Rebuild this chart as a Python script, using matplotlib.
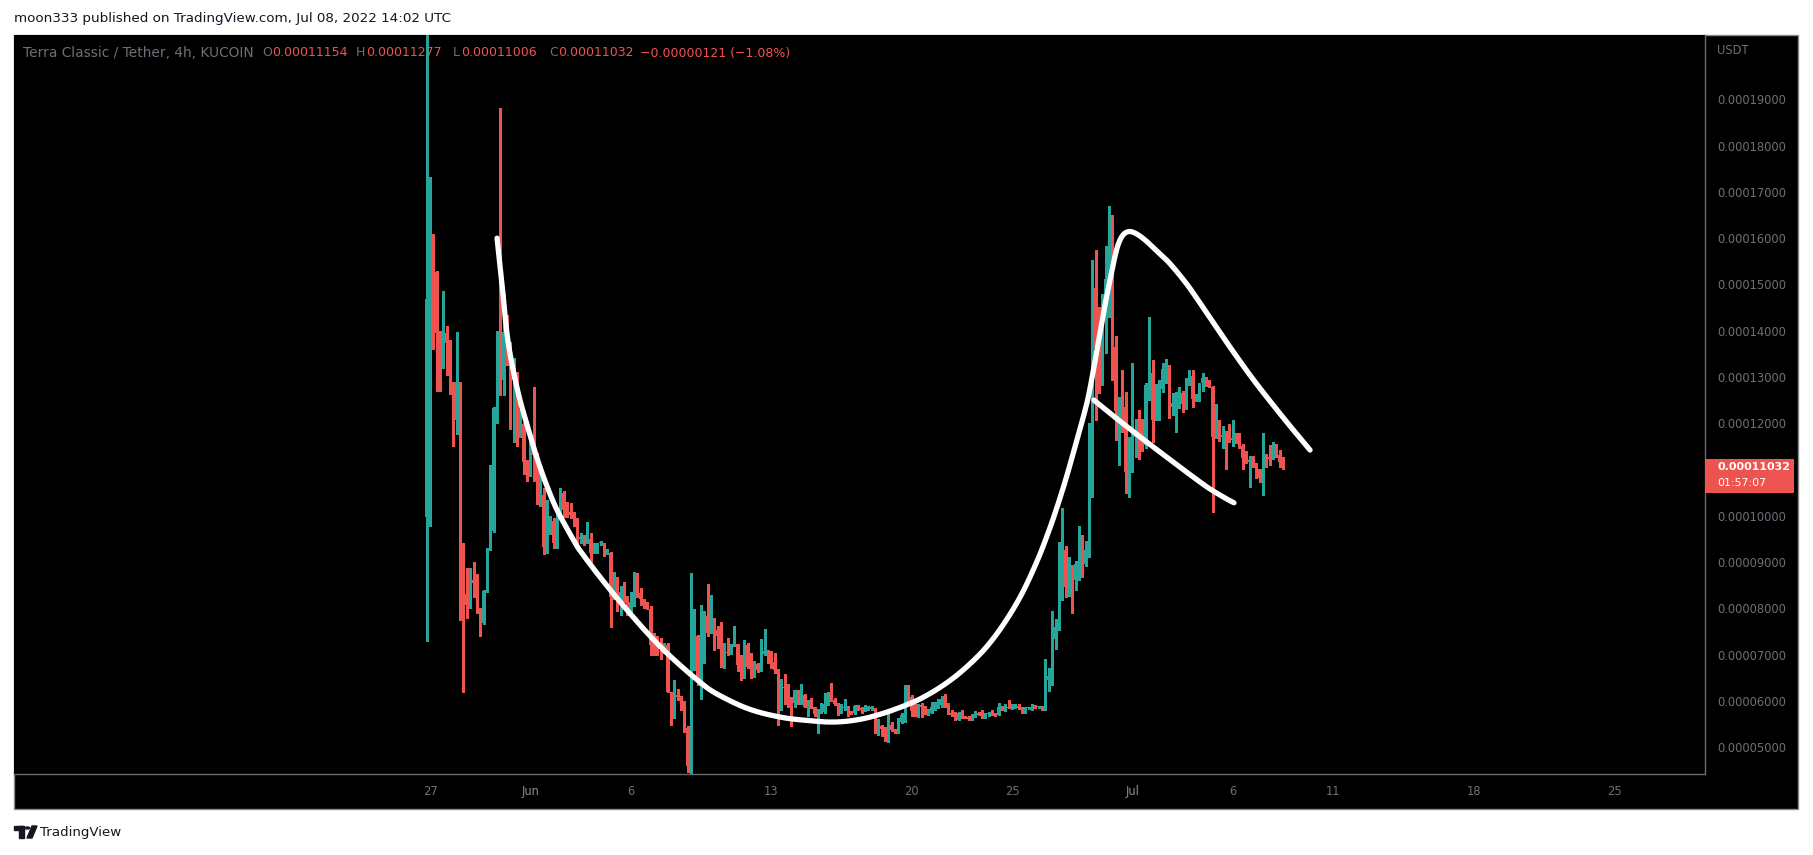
import numpy as np
import pandas as pd
import matplotlib
matplotlib.use("Agg")
import matplotlib.pyplot as plt
from matplotlib.patches import Rectangle, Circle, Polygon
from matplotlib.ticker import FixedLocator, FuncFormatter

W, H = 1813, 855

# 4h candles, prices in units of 1e-5 USDT
first_candle = "2022-05-26 20:00"
first_open = 9.98
closes = [
    14.68, 16.08, 15.27, 13.96, 13.30, 13.96, 13.74, 12.90, 12.07, 12.90,
    9.08, 8.30, 8.07, 8.60, 8.55, 7.99, 7.68, 8.37, 9.27, 9.68,
    12.33, 13.96, 12.94, 13.98, 13.71, 12.94, 13.00, 11.87, 11.98, 11.16,
    10.95, 11.41, 11.31, 10.39, 10.44, 9.32, 9.78, 9.88, 9.42, 10.10,
    10.50, 10.13, 10.07, 10.02, 9.87, 9.49, 9.55, 9.44, 9.50, 9.20,
    9.26, 9.40, 9.40, 9.19, 9.19, 8.25, 8.48, 8.19, 8.36, 8.27,
    7.91, 8.14, 8.65, 8.34, 8.19, 8.11, 7.99, 7.21, 7.18, 7.08,
    7.06, 7.20, 6.20, 5.64, 6.13, 6.09, 5.93, 5.41, 4.60, 7.20,
    7.40, 6.46, 7.42, 7.83, 7.46, 7.66, 7.53, 7.40, 6.99, 7.06,
    7.03, 7.20, 7.23, 6.77, 6.65, 7.20, 6.74, 6.65, 6.79, 6.67,
    7.01, 7.07, 6.88, 6.84, 6.67, 5.84, 6.30, 6.27, 5.98, 5.96,
    6.23, 5.96, 6.12, 5.87, 6.01, 5.87, 5.71, 5.74, 5.75, 5.93,
    6.16, 6.02, 5.94, 5.79, 5.85, 5.87, 5.76, 5.74, 5.89, 5.84,
    5.79, 5.82, 5.83, 5.84, 5.44, 5.45, 5.40, 5.21, 5.48, 5.37,
    5.35, 5.55, 5.69, 6.30, 6.09, 5.77, 5.69, 5.91, 5.87, 5.73,
    5.73, 5.86, 5.88, 5.91, 6.03, 5.87, 5.74, 5.69, 5.58, 5.73,
    5.66, 5.64, 5.60, 5.69, 5.73, 5.70, 5.64, 5.71, 5.74, 5.72,
    5.70, 5.86, 5.80, 5.87, 5.85, 5.87, 5.89, 5.84, 5.77, 5.84,
    5.85, 5.91, 5.86, 5.88, 5.82, 6.45, 6.54, 7.33, 7.60, 9.12,
    9.26, 8.47, 8.92, 8.60, 8.95, 9.01, 8.96, 9.26, 10.81, 14.93,
    13.62, 13.10, 14.36, 15.11, 16.13, 13.65, 12.27, 12.56, 12.36, 10.95,
    11.31, 11.71, 11.86, 11.64, 11.53, 12.83, 13.08, 12.07, 12.29, 12.75,
    13.17, 13.19, 12.34, 12.43, 12.56, 12.66, 12.42, 12.88, 13.02, 12.52,
    12.56, 12.86, 12.97, 12.83, 12.79, 11.70, 12.08, 11.70, 11.75, 11.65,
    11.63, 11.67, 11.62, 11.51, 11.24, 11.17, 11.19, 11.13, 11.00, 10.81,
    11.33, 11.26, 11.23, 11.47, 11.31, 11.154, 11.032,
]
highs = [
    21.50, 17.33, 16.10, 15.30, 14.00, 14.85, 14.10, 13.80, 12.90, 13.98,
    12.90, 9.42, 8.86, 8.86, 9.00, 8.75, 8.00, 8.40, 9.30, 11.10,
    12.35, 14.00, 18.81, 14.80, 14.35, 13.75, 13.40, 13.10, 12.30, 12.00,
    11.20, 11.70, 12.79, 11.35, 11.00, 10.60, 10.35, 10.00, 9.95, 10.15,
    10.60, 10.54, 10.30, 10.27, 10.09, 9.95, 9.62, 9.58, 9.87, 9.62,
    9.40, 9.42, 9.45, 9.40, 9.28, 9.22, 8.79, 8.68, 8.48, 8.56,
    8.27, 8.36, 8.79, 8.76, 8.43, 8.19, 8.14, 8.05, 7.46, 7.39,
    7.35, 7.25, 7.25, 6.20, 6.44, 6.25, 6.10, 5.99, 5.45, 8.76,
    7.98, 7.42, 8.07, 7.93, 8.53, 8.29, 7.78, 7.62, 7.70, 7.25,
    7.35, 7.23, 7.62, 7.23, 6.99, 7.31, 7.24, 7.03, 6.85, 6.81,
    7.33, 7.56, 7.10, 7.07, 7.03, 6.68, 6.48, 6.58, 6.36, 6.08,
    6.24, 6.24, 6.36, 6.15, 6.02, 6.05, 5.87, 5.82, 5.96, 6.17,
    6.18, 6.39, 6.05, 5.95, 5.94, 6.04, 5.88, 5.78, 5.91, 5.91,
    5.87, 5.91, 5.88, 5.88, 5.85, 5.60, 5.48, 5.44, 5.71, 5.55,
    5.40, 5.62, 5.74, 6.34, 6.34, 6.13, 5.93, 5.93, 5.95, 5.89,
    5.83, 5.98, 5.98, 6.03, 6.10, 6.15, 5.96, 5.80, 5.76, 5.75,
    5.80, 5.67, 5.66, 5.71, 5.77, 5.75, 5.80, 5.74, 5.76, 5.80,
    5.74, 5.96, 5.89, 5.93, 6.02, 5.93, 5.93, 5.93, 5.86, 5.87,
    5.87, 5.93, 5.91, 5.89, 5.89, 6.90, 6.70, 7.95, 7.76, 9.44,
    10.16, 9.35, 9.10, 8.93, 9.02, 9.78, 9.58, 9.46, 12.01, 15.53,
    15.74, 14.52, 14.79, 15.82, 16.69, 16.50, 13.88, 12.56, 13.15, 12.68,
    11.70, 13.31, 12.10, 12.29, 12.10, 12.86, 14.30, 13.37, 12.85, 12.93,
    13.31, 13.38, 13.26, 12.66, 12.68, 12.78, 12.70, 12.97, 13.16, 13.15,
    12.63, 12.88, 13.09, 12.99, 12.93, 12.81, 12.42, 12.08, 11.94, 11.84,
    11.98, 12.07, 11.79, 11.79, 11.55, 11.41, 11.29, 11.29, 11.15, 11.02,
    11.78, 11.33, 11.53, 11.59, 11.56, 11.42, 11.277,
]
lows = [
    7.30, 9.78, 13.60, 12.70, 12.70, 13.20, 13.04, 12.64, 11.50, 11.77,
    7.74, 6.19, 7.79, 8.00, 8.25, 7.90, 7.41, 7.65, 8.35, 9.25,
    9.65, 12.00, 12.60, 12.60, 13.25, 11.87, 11.60, 11.50, 11.70, 10.90,
    10.75, 10.85, 10.75, 10.25, 10.20, 9.17, 9.20, 9.60, 9.30, 9.30,
    10.00, 9.98, 9.97, 9.95, 9.78, 9.33, 9.40, 9.37, 9.42, 8.99,
    9.20, 9.19, 9.36, 9.13, 9.17, 7.60, 8.20, 7.93, 7.86, 8.14,
    7.86, 7.89, 8.04, 8.25, 8.07, 8.00, 7.98, 6.99, 6.99, 6.99,
    6.90, 7.03, 6.18, 5.48, 5.62, 6.02, 5.80, 5.33, 4.47, 4.40,
    6.67, 6.34, 6.03, 6.82, 7.39, 7.46, 7.10, 7.14, 6.72, 6.70,
    6.98, 7.02, 7.18, 6.65, 6.45, 6.49, 6.70, 6.49, 6.52, 6.63,
    6.65, 7.00, 6.81, 6.70, 6.59, 5.48, 5.79, 5.94, 5.87, 5.45,
    5.86, 5.93, 5.94, 5.86, 5.66, 5.84, 5.67, 5.31, 5.73, 5.73,
    5.91, 6.00, 5.91, 5.69, 5.74, 5.80, 5.67, 5.71, 5.72, 5.80,
    5.74, 5.78, 5.80, 5.81, 5.31, 5.26, 5.23, 5.12, 5.10, 5.35,
    5.30, 5.31, 5.51, 5.55, 5.94, 5.66, 5.67, 5.64, 5.64, 5.71,
    5.70, 5.74, 5.81, 5.84, 5.87, 5.86, 5.71, 5.66, 5.58, 5.58,
    5.62, 5.62, 5.59, 5.58, 5.64, 5.69, 5.62, 5.62, 5.67, 5.69,
    5.67, 5.69, 5.79, 5.77, 5.84, 5.82, 5.84, 5.82, 5.74, 5.74,
    5.82, 5.80, 5.84, 5.85, 5.80, 5.79, 6.22, 6.34, 7.11, 7.54,
    8.18, 8.24, 8.26, 7.89, 8.40, 8.61, 8.68, 8.92, 9.11, 10.41,
    12.08, 12.65, 12.83, 13.51, 14.30, 12.93, 11.64, 11.10, 11.82, 10.49,
    10.41, 10.95, 11.28, 11.22, 11.39, 11.46, 12.50, 11.60, 12.06, 12.07,
    12.68, 12.88, 12.11, 12.18, 11.82, 12.32, 12.25, 12.30, 12.83, 12.36,
    12.49, 12.49, 12.70, 12.81, 12.78, 10.09, 11.69, 11.62, 11.46, 11.00,
    11.60, 11.51, 11.58, 11.46, 11.00, 11.13, 10.63, 11.05, 10.81, 10.72,
    10.45, 11.05, 11.10, 11.22, 11.28, 11.06, 11.006,
]

# freehand drawings on the chart: days after May 27 00:00, price (1e-5)
cup_days = [3.34, 3.59, 3.89, 4.38, 4.88, 5.38, 5.88, 6.38, 7.22, 7.57,
            8.37, 9.22, 10.06, 10.86, 11.71, 12.56, 13.35, 14.20, 15.84, 17.54,
            19.18, 20.03, 20.83, 21.67, 22.52, 23.32, 24.02, 24.51, 25.31, 26.16,
            27.01, 27.80, 28.65, 29.50, 30.29, 30.79, 31.14, 31.64, 32.14, 32.64,
            32.89, 33.28, 33.63, 33.98, 34.23, 34.48, 34.78, 35.13, 35.63, 36.27,
            36.87, 37.72, 38.52, 39.36, 40.21, 41.01, 41.85, 42.70, 43.35, 43.85]
cup_price = [16.00, 14.99, 13.76, 12.68, 11.90, 11.18, 10.58, 10.08, 9.42, 9.19,
             8.73, 8.27, 7.84, 7.45, 7.07, 6.73, 6.44, 6.17, 5.83, 5.64,
             5.56, 5.54, 5.56, 5.62, 5.72, 5.84, 5.96, 6.06, 6.26, 6.52,
             6.84, 7.20, 7.70, 8.32, 9.06, 9.62, 10.05, 10.73, 11.49, 12.28,
             12.76, 13.70, 14.55, 15.30, 15.78, 16.04, 16.14, 16.11, 15.96, 15.70,
             15.45, 15.00, 14.50, 13.96, 13.43, 12.95, 12.48, 12.02, 11.68, 11.42]
flag_days = [33.08, 34.13, 35.13, 36.12, 37.22, 38.02, 38.86, 39.71, 40.06]
flag_price = [12.50, 12.13, 11.79, 11.46, 11.10, 10.84, 10.58, 10.36, 10.28]

price_ticks = [5, 6, 7, 8, 9, 10, 12, 13, 14, 15, 16, 17, 18, 19]
date_ticks = ["2022-05-27", "2022-06-01", "2022-06-06", "2022-06-13", "2022-06-20",
              "2022-06-25", "2022-07-01", "2022-07-06", "2022-07-11", "2022-07-18",
              "2022-07-25"]
date_labels = ["27", "Jun", "6", "13", "20", "25", "Jul", "6", "11", "18", "25"]

scale = 1e-5
UP, DOWN = "#26a69a", "#ef5350"
AXIS_TXT = "#6d7079"
LINE = "#6b6b6b"
PX_PER_DAY, PX_PER_UNIT = 20.07, 46.26


def fx(px):
    return px / W


def fy(py):
    return 1 - py / H


def smooth(xs, ys, n=12):
    # Catmull-Rom through the traced points, in screen-like proportions
    P = np.column_stack([np.asarray(xs) * PX_PER_DAY, np.asarray(ys) * PX_PER_UNIT])
    P = np.vstack([2 * P[0] - P[1], P, 2 * P[-1] - P[-2]])
    t = np.linspace(0, 1, n, endpoint=False)[:, None]
    parts = []
    for i in range(1, len(P) - 2):
        p0, p1, p2, p3 = P[i - 1], P[i], P[i + 1], P[i + 2]
        parts.append(0.5 * (2 * p1 + (p2 - p0) * t
                            + (2 * p0 - 5 * p1 + 4 * p2 - p3) * t ** 2
                            + (3 * p1 - p0 - 3 * p2 + p3) * t ** 3))
    parts.append(P[-2][None, :])
    out = np.vstack(parts)
    return out[:, 0] / PX_PER_DAY, out[:, 1] / PX_PER_UNIT


fig = plt.figure(figsize=(W / 100, H / 100), dpi=100, facecolor="white")

# outer black panel (chart + scales), drawn behind the axes
fig.patches.append(Rectangle((fx(14), fy(809)), fx(1798) - fx(14), fy(35) - fy(809),
                             transform=fig.transFigure, facecolor="black",
                             edgecolor="#8a8a8a", linewidth=1.0, zorder=-5))

ax = fig.add_axes([fx(14), fy(774), fx(1705) - fx(14), fy(35) - fy(774)])
ax.set_zorder(1)
ax.set_facecolor("black")
for side in ["top", "left"]:
    ax.spines[side].set_visible(False)
for side in ["right", "bottom"]:
    ax.spines[side].set_color(LINE)
    ax.spines[side].set_linewidth(1.0)

times = pd.date_range(first_candle, periods=len(closes), freq="4h")
base = pd.Timestamp("2022-05-27")
x = np.asarray((times - base) / pd.Timedelta(days=1))

c = np.array(closes) * scale
o = np.concatenate([[first_open], closes[:-1]]) * scale
hi = np.maximum(np.array(highs) * scale, np.maximum(o, c))
lo = np.minimum(np.array(lows) * scale, np.minimum(o, c))
colors = np.where(c >= o, UP, DOWN)

body_w = 4 / 24 * 0.8
ax.vlines(x, lo, hi, colors=colors, linewidth=1.0, zorder=2, antialiased=False)
ax.bar(x, np.maximum(np.abs(c - o), 0.025 * scale), body_w,
       bottom=np.minimum(o, c), color=colors, linewidth=0, zorder=3,
       antialiased=False)

# drawings
for dx, dy in [(cup_days, cup_price), (flag_days, flag_price)]:
    sx, sy = smooth(dx, dy)
    ax.plot(sx, sy * scale, color="white", lw=3.8,
            solid_capstyle="round", solid_joinstyle="round", zorder=4)

ax.set_xlim(-20.73, 63.53)
ax.set_ylim(4.417 * scale, 20.392 * scale)

# price scale
ax.yaxis.tick_right()
ax.yaxis.set_major_locator(FixedLocator([v * scale for v in price_ticks]))
ax.yaxis.set_major_formatter(FuncFormatter(lambda v, _: f"{v:.8f}"))
ax.tick_params(axis="y", length=0, pad=8.6, labelsize=8.3, labelcolor=AXIS_TXT)

# time scale
tick_days = [(pd.Timestamp(d) - base) / pd.Timedelta(days=1) for d in date_ticks]
ax.set_xticks(tick_days)
ax.set_xticklabels(date_labels)
ax.tick_params(axis="x", length=0, pad=8.0, labelsize=8.3, labelcolor=AXIS_TXT)
for lab in ax.get_xticklabels():
    if lab.get_text() in ("Jun", "Jul"):
        lab.set_color("#8a8d96")

# header and legend
fig.text(fx(14), fy(18.5), "moon333 published on TradingView.com, Jul 08, 2022 14:02 UTC",
         ha="left", va="center", fontsize=9.7, color="#131722")
ax.text(fx(1717), fy(51), "USDT", transform=fig.transFigure, ha="left", va="center",
        fontsize=8.3, color=AXIS_TXT)

ax.text(fx(23), fy(53), "Terra Classic / Tether, 4h, KUCOIN", transform=fig.transFigure,
        ha="left", va="center", fontsize=9.9, color=AXIS_TXT, zorder=6)
ohlc = [("O", "0.00011154", 262), ("H", "0.00011277", 356),
        ("L", "0.00011006", 453), ("C", "0.00011032", 549)]
for letter, value, px in ohlc:
    t = ax.text(fx(px), fy(53), letter, transform=fig.transFigure, ha="left",
                va="center", fontsize=9.0, color=AXIS_TXT, zorder=6)
    ax.annotate(value, xy=(1, 0.5), xycoords=t, xytext=(0.5, 0),
                textcoords="offset points", ha="left", va="center",
                fontsize=9.0, color=DOWN, annotation_clip=False, zorder=6)
ax.text(fx(640), fy(53), "\u22120.00000121 (\u22121.08%)", transform=fig.transFigure,
        ha="left", va="center", fontsize=9.0, color=DOWN, zorder=6)

# last price tag
y_last = ax.transData.transform((0, c[-1]))[1]
ax.add_patch(Rectangle((fx(1705), (y_last - 25) / H), fx(1794) - fx(1705), 34 / H,
                       transform=fig.transFigure, facecolor=DOWN,
                       edgecolor="none", zorder=7, clip_on=False))
ax.text(fx(1717), (y_last + 1) / H, f"{c[-1]:.8f}", transform=fig.transFigure,
        ha="left", va="center", fontsize=7.9, color="white", fontweight="bold", zorder=8)
ax.text(fx(1717), (y_last - 15) / H, "01:57:07", transform=fig.transFigure,
        ha="left", va="center", fontsize=7.9, color="white", zorder=8)

# TradingView mark
ink = "#131722"
fig.patches.append(Rectangle((fx(14), fy(830)), fx(24) - fx(14), 4 / H,
                             transform=fig.transFigure, color=ink))
fig.patches.append(Rectangle((fx(19), fy(838)), fx(24) - fx(19), 12 / H,
                             transform=fig.transFigure, color=ink))
fig.patches.append(Circle((fx(27.5), fy(828)), 2.1 / W,
                          transform=fig.transFigure, color=ink))
fig.patches.append(Polygon([(fx(27), fy(838)), (fx(32), fy(838)),
                            (fx(37), fy(826)), (fx(32), fy(826))],
                           closed=True, transform=fig.transFigure, color=ink))
fig.text(fx(40), fy(832), "TradingView", ha="left", va="center",
         fontsize=9.6, color=ink)

fig.savefig("out.png", dpi=100, facecolor="white")
